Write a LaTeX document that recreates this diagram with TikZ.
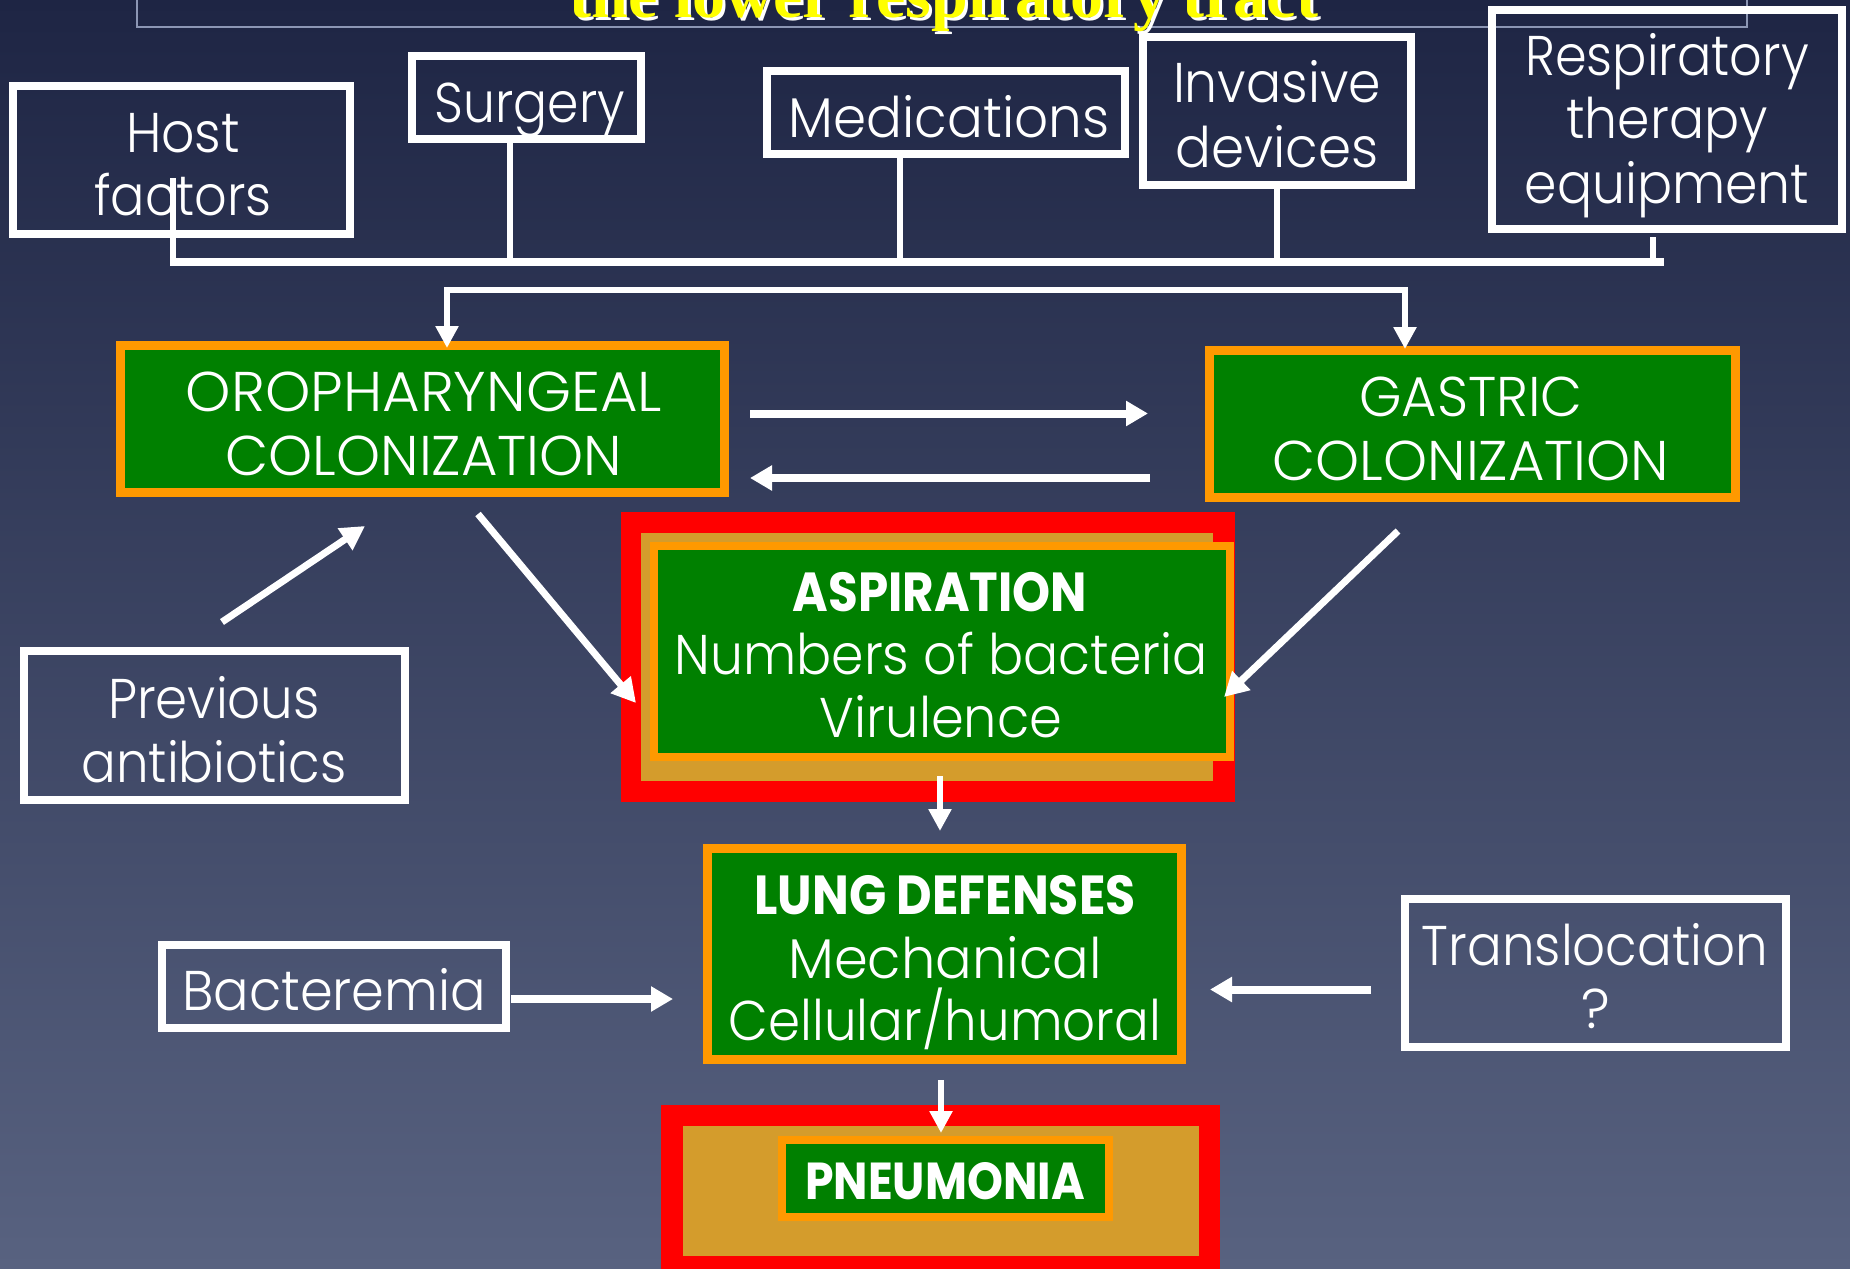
\documentclass[tikz,border=0pt]{standalone}
\usepackage{fontspec}
\setmainfont{Poppins}[UprightFont=* Light, BoldFont=* Bold]
\newfontfamily\titlefont{Liberation Serif}
\usetikzlibrary{arrows.meta}
\definecolor{bgtop}{RGB}{30,37,68}
\definecolor{bgmid}{RGB}{52,61,95}
\definecolor{bgbot}{RGB}{88,98,128}
\definecolor{boxgreen}{RGB}{0,128,0}
\definecolor{boxorange}{RGB}{255,153,0}
\definecolor{boxred}{RGB}{255,0,0}
\definecolor{goldtex}{RGB}{212,156,44}
\definecolor{titleline}{RGB}{140,150,180}
\definecolor{titleyellow}{RGB}{255,255,0}
\newcommand{\sx}[2]{\scalebox{#1}[1]{#2}}
\tikzset{
  wbox/.style={draw=white, line width=8pt, minimum width=#1, inner sep=0pt},
  obox/.style={draw=boxorange, fill=boxgreen, line width=9pt, inner sep=0pt},
  lbl/.style={text=white, font=\fontsize{56}{64}\selectfont, inner sep=0pt, anchor=base},
  blbl/.style={text=white, font=\bfseries\fontsize{55}{64}\selectfont, inner sep=0pt, anchor=base},
  wline/.style={draw=white, line width=6pt},
  hbar/.style={draw=white, line width=8pt},
  arr/.style={draw=white, line width=6pt, -{Triangle[length=22pt,width=22pt]}},
  harr/.style={draw=white, line width=8pt, -{Triangle[length=22pt,width=24pt]}},
  darr/.style={draw=white, line width=7pt, -{Triangle[length=24pt,width=25pt]}},
}
\begin{document}
\begin{tikzpicture}[x=1pt,y=-1pt]
\clip (0,0) rectangle (1850,1269);
\shade[top color=bgtop, middle color=bgmid, bottom color=bgbot] (0,0) rectangle (1850,1269);

% title (cut off at the top)
\draw[titleline, line width=2pt] (137,-10) -- (137,27) -- (1747,27) -- (1747,-10);
\node[anchor=base, text=white, inner sep=0pt, font=\titlefont\bfseries\fontsize{66}{70}\selectfont] (title-sh) at (947,20) {the lower respiratory tract};
\node[anchor=base, text=titleyellow, inner sep=0pt, font=\titlefont\bfseries\fontsize{66}{70}\selectfont] (title) at (944,17) {the lower respiratory tract};

% top-row risk factor boxes
\node[wbox=337pt, minimum height=148pt] (host) at (181.5,160) {};
\node[wbox=229pt, minimum height=83pt] (surg) at (526.5,97.5) {};
\node[wbox=358pt, minimum height=83pt] (med) at (946,112.5) {};
\node[wbox=268pt, minimum height=148pt] (inv) at (1277,111) {};
\node[wbox=350pt, minimum height=219pt] (resp) at (1667,119.5) {};

\node[lbl] (host-1) at (183,152) {\sx{0.93}{Host}};
\node[lbl] (host-2) at (183,215) {\sx{0.91}{factors}};
\node[lbl] (surg-1) at (530,122) {\sx{0.90}{Surgery}};
\node[lbl] (med-1) at (949,137) {\sx{0.95}{Medications}};
\node[lbl] (inv-1) at (1277,102) {\sx{0.93}{Invasive}};
\node[lbl] (inv-2) at (1277,167) {\sx{0.95}{devices}};
\node[lbl] (resp-1) at (1667,75) {\sx{0.91}{Respiratory}};
\node[lbl] (resp-2) at (1667,138) {\sx{0.93}{therapy}};
\node[lbl] (resp-3) at (1667,203) {\sx{0.93}{equipment}};

% collecting bar
\coordinate (barL) at (170,262);
\coordinate (barR) at (1664,262);
\coordinate (hostT) at (173,178);
\coordinate (hostB) at (173,262);
\coordinate (surgB) at (510,262);
\coordinate (medB) at (900,262);
\coordinate (invB) at (1277,262);
\coordinate (respB) at (1653,262);
\draw[hbar] (barL) -- (barR);
\draw[wline] (hostT) -- (hostB);
\draw[wline] (surg.south -| surgB) -- (surgB);
\draw[wline] (med.south -| medB) -- (medB);
\draw[wline] (inv.south -| invB) -- (invB);
\draw[wline] ([yshift=-4pt]resp.south -| respB) -- (respB);

% colonization boxes
\node[obox, minimum width=604pt, minimum height=147pt] (oro) at (422.5,419) {};
\node[obox, minimum width=526pt, minimum height=147pt] (gas) at (1472.5,424) {};
\node[lbl] (oro-1) at (424,411) {\sx{1.03}{OROPHARYNGEAL}};
\node[lbl] (oro-2) at (424,475) {COLONIZATION};
\node[lbl] (gas-1) at (1471,416) {\sx{0.97}{GASTRIC}};
\node[lbl] (gas-2) at (1471,480) {COLONIZATION};

% second bracket
\coordinate (br1) at (447,290);
\coordinate (br2) at (1405,290);
\draw[wline, line cap=rect] (br1) -- (br2);
\draw[arr] (br1) -- ([yshift=-7pt]br1 |- oro.north);
\draw[arr] (br2) -- ([yshift=-3pt]br2 |- gas.north);

% arrows between colonization boxes
\coordinate (og1) at (750,413.5);
\coordinate (og2) at (1148,413.5);
\coordinate (go1) at (1150,478);
\coordinate (go2) at (750,478);
\draw[harr] (og1) -- (og2);
\draw[harr] (go1) -- (go2);

% aspiration
\fill[boxred] (621,512) rectangle (1235,802);
\fill[goldtex] (641,533) rectangle (1213,781);
\node[draw=boxorange, fill=boxgreen, line width=8pt, inner sep=0pt, minimum width=576pt, minimum height=211pt] (asp) at (942,651.5) {};
\node[blbl] (asp-1) at (940,611) {\sx{0.88}{ASPIRATION}};
\node[lbl] (asp-2) at (941,674) {\sx{0.93}{Numbers of bacteria}};
\node[lbl] (asp-3) at (941,737) {\sx{0.94}{Virulence}};

% previous antibiotics
\node[wbox=381pt, minimum height=149pt] (prev) at (214.5,725.5) {};
\node[lbl] (prev-1) at (214,718) {\sx{0.92}{Previous}};
\node[lbl] (prev-2) at (214,782) {\sx{0.92}{antibiotics}};

% diagonal arrows
\coordinate (pa1) at (222,622);
\coordinate (pa2) at (365,526);
\coordinate (oa1) at (478,514);
\coordinate (oa2) at (636,703);
\coordinate (ga1) at (1398,531);
\coordinate (ga2) at (1224,697);
\draw[darr] (pa1) -- (pa2);
\draw[darr] (oa1) -- (oa2);
\draw[darr] (ga1) -- (ga2);

% lung defenses
\node[obox, minimum width=474pt, minimum height=211pt] (lung) at (944.5,954) {};
\node[blbl] (lung-1) at (945,914) {\sx{0.89}{LUNG DEFENSES}};
\node[lbl] (lung-2) at (945,978) {\sx{0.97}{Mechanical}};
\node[lbl] (lung-3) at (945,1040) {\sx{0.92}{Cellular/humoral}};
\coordinate (al1) at (940,776);
\draw[arr] (al1) -- ([yshift=13pt]al1 |- lung.north);

% bacteremia
\node[wbox=344pt, minimum height=83pt] (bact) at (334,986.5) {};
\node[lbl] (bact-1) at (334,1010) {\sx{0.94}{Bacteremia}};
\coordinate (bl1) at (511,999);
\coordinate (bl2) at (673,999);
\draw[harr] (bl1) -- (bl2);

% translocation
\node[wbox=381pt, minimum height=148pt] (trans) at (1595.5,973) {};
\node[lbl] (trans-1) at (1595,965) {\sx{0.92}{Translocation}};
\node[lbl] (trans-2) at (1596,1028) {?};
\coordinate (tl1) at (1371,989.5);
\coordinate (tl2) at (1210,989.5);
\draw[harr] (tl1) -- (tl2);

% pneumonia
\fill[boxred] (661,1105) rectangle (1220,1275);
\fill[goldtex] (683,1126) rectangle (1199,1256);
\node[draw=boxorange, fill=boxgreen, line width=8pt, inner sep=0pt, minimum width=327pt, minimum height=77pt] (pneu) at (945.5,1178.5) {};
\node[blbl, font=\bfseries\fontsize{52}{60}\selectfont] (pneu-1) at (945,1199) {\sx{0.88}{PNEUMONIA}};
\coordinate (lp1) at (941,1080);
\draw[arr] (lp1) -- ([yshift=3pt]lp1 |- pneu.north);
\end{tikzpicture}
\end{document}
